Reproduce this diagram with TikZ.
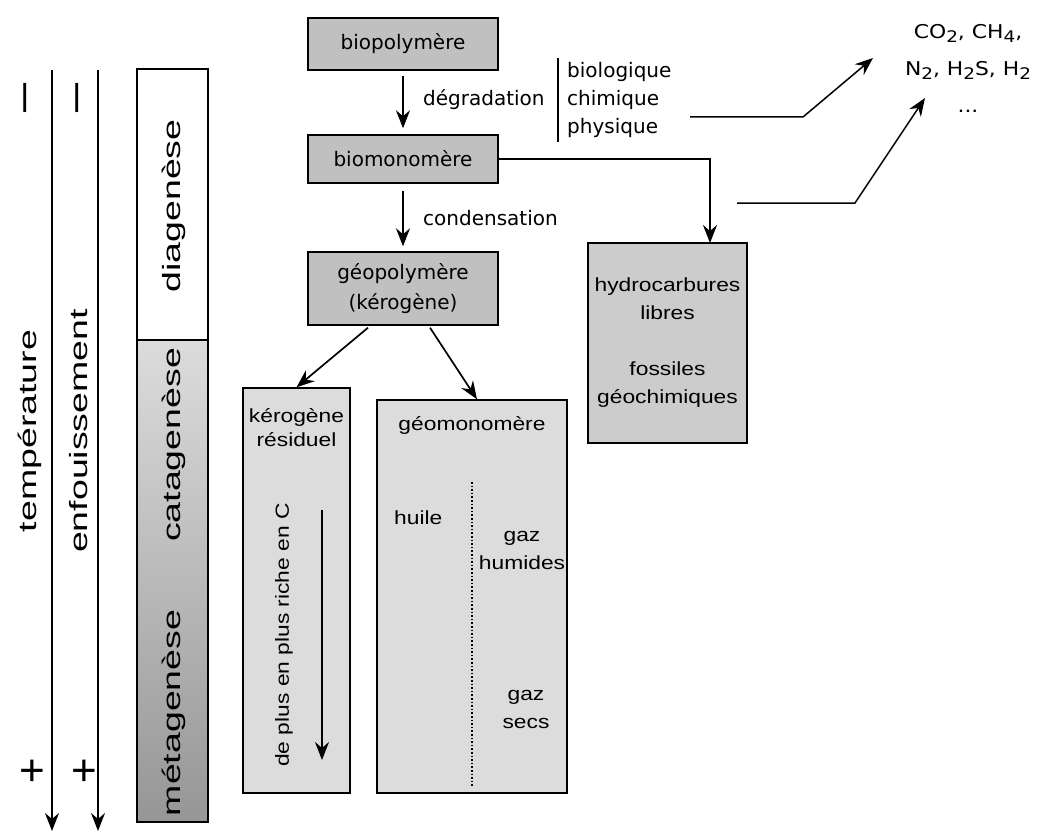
\documentclass[tikz,border=0pt]{standalone}
\usepackage{fontspec}
\setmainfont{Liberation Sans}
\newfontfamily\topfont{DejaVu Sans}
\newfontfamily\gasfont[FakeStretch=1.15]{DejaVu Sans}
\newfontfamily\boxfont[FakeStretch=1.2]{Liberation Sans}
\newfontfamily\sidefont[FakeStretch=1.5]{Liberation Sans}
\usetikzlibrary{arrows.meta, positioning, calc}
\definecolor{boxgray}{RGB}{192, 192, 192}
\definecolor{palegray}{RGB}{220, 220, 220}
\definecolor{hydrogray}{RGB}{204, 204, 204}
\definecolor{catagray}{RGB}{220, 220, 220}
\definecolor{metagray}{RGB}{150, 150, 150}
\newcommand{\chemsub}[1]{\raisebox{-0.4ex}{\fontsize{16}{16}\selectfont #1}}

\begin{document}
\begin{tikzpicture}[x=1pt, y=-1pt,
  stagebox/.style={draw=black, line width=1.4pt, fill=boxgray, minimum width=190pt, inner sep=0pt, align=center, font=\topfont\fontsize{20}{30}\selectfont},
  lowbox/.style={draw=black, line width=1.4pt, inner sep=0pt},
  flow/.style={-{Stealth[length=18pt, width=14pt, inset=6pt]}, line width=1.7pt},
  lbl/.style={anchor=west, inner sep=0pt, align=left, font=\topfont\fontsize{20}{28}\selectfont},
  boxtxt/.style={inner sep=0pt, align=center, font=\boxfont\fontsize{19}{28}\selectfont},
  side/.style={inner sep=0pt, rotate=90, font=\sidefont\fontsize{25}{25}\selectfont}
]
  \useasboundingbox (0,0) rectangle (1038,832);

  % echelles temperature / enfouissement
  \coordinate (temptop) at (52,70);
  \coordinate (tempbot) at (52,831);
  \coordinate (enftop) at (98,70);
  \coordinate (enfbot) at (98,831);
  \draw[flow] (temptop) -- (tempbot);
  \draw[flow] (enftop) -- (enfbot);
  \node[side] (temp) at (30,431) {température};
  \node[side] (enf) at (79,431) {enfouissement};
  \node[side, font=\sidefont\fontsize{40}{40}\selectfont] (tempmin) at (31,98) {−};
  \node[side, font=\sidefont\fontsize{40}{40}\selectfont] (enfmin) at (83,98) {−};
  \node[inner sep=0pt, font=\fontsize{44}{44}\selectfont] (tempplus) at (32,773) {+};
  \node[inner sep=0pt, font=\fontsize{44}{44}\selectfont] (enfplus) at (84,773) {+};

  % colonne des stades
  \node[lowbox, fill=white, minimum width=71pt, minimum height=271pt] (diabox) at (172.5,204.5) {};
  \node[lowbox, top color=catagray, bottom color=metagray, minimum width=71pt, minimum height=482pt] (catabox) at (172.5,581) {};
  \node[side] (dia) at (174,206) {diagenèse};
  \node[side] (cata) at (174,445) {catagenèse};
  \node[side] (meta) at (174,713) {métagenèse};

  % chaine principale
  \node[stagebox, minimum height=52pt] (biopoly) at (403,44) {biopolymère};
  \node[stagebox, minimum height=48pt] (biomono) at (403,159) {biomonomère};
  \node[stagebox, minimum height=73pt] (geopoly) at (403,288.5) {géopolymère\\(kérogène)};
  \draw[flow, shorten <=5pt, shorten >=6pt] (biopoly) -- (biomono);
  \draw[flow, shorten <=7pt, shorten >=5pt] (biomono) -- (geopoly);
  \node[lbl] (degrad) at (423,100) {dégradation};
  \node[lbl] (conden) at (423,218) {condensation};
  \draw[line width=1.4pt] (558,58) -- (558,142);
  \node[lbl] (modes) at (567,100) {biologique\\chimique\\physique};

  % produits
  \node[lowbox, fill=palegray, minimum width=107pt, minimum height=405pt] (kerores) at (296.5,590.5) {};
  \node[lowbox, fill=palegray, minimum width=190pt, minimum height=393pt] (geomono) at (472,596.5) {};
  \node[lowbox, fill=hydrogray, minimum width=159pt, minimum height=200pt, boxtxt] (hydro) at (667.5,343) {hydrocarbures\\libres\\[28pt]fossiles\\géochimiques};
  \node[boxtxt, font=\boxfont\fontsize{19}{24}\selectfont] (kertxt) at (296.5,428) {kérogène\\résiduel};
  \node[boxtxt, rotate=90] (riche) at (284,635) {de plus en plus riche en C};
  \coordinate (richtop) at (322,510);
  \coordinate (richbot) at (322,760);
  \draw[flow] (richtop) -- (richbot);
  \node[boxtxt] (geotxt) at (472,425) {géomonomère};
  \coordinate (septop) at (472,482);
  \coordinate (sepbot) at (472,787);
  \draw[line width=1.6pt, dotted] (septop) -- (sepbot);
  \node[boxtxt, anchor=west] (huile) at (394,518) {huile};
  \node[boxtxt] (gazhum) at (522,550) {gaz\\humides};
  \node[boxtxt] (gazsec) at (526,709) {gaz\\secs};

  \draw[flow] ($(geopoly.south)+(-35,2)$) -- (kerores.north);
  \draw[flow] ($(geopoly.south)+(27,2)$) -- ($(geomono.north)+(5,0)$);
  \coordinate (hydroin) at (710,243);
  \draw[flow] (biomono.east) -| (hydroin);

  % gaz
  \node[inner sep=0pt, align=center, font=\gasfont\fontsize{19}{37}\selectfont] (gases) at (968,68) {CO\chemsub{2}, CH\chemsub{4},\\N\chemsub{2}, H\chemsub{2}S, H\chemsub{2}\\...};
  \coordinate (outA) at (690,117);
  \coordinate (gasA) at (873,58);
  \coordinate (outB) at (737,203);
  \coordinate (gasB) at (925,98);
  \draw[flow, line width=1.5pt] (outA) -- ++(113,0) -- (gasA);
  \draw[flow, line width=1.5pt] (outB) -- ++(118,0) -- (gasB);
\end{tikzpicture}
\end{document}
